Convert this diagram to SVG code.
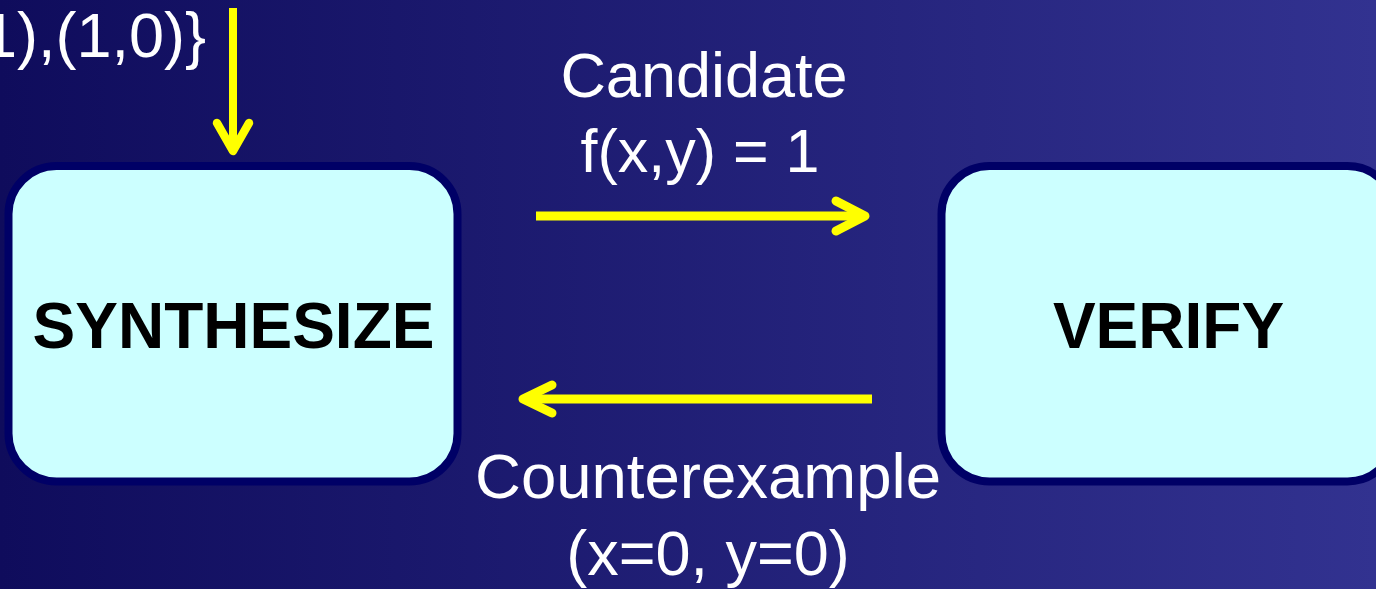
<svg xmlns="http://www.w3.org/2000/svg" width="1376" height="589" viewBox="0 0 1376 589">
<defs>
<linearGradient id="bg" x1="0" y1="0" x2="1" y2="0">
<stop offset="0" stop-color="#0f0c5c"/>
<stop offset="1" stop-color="#323290"/>
</linearGradient>
<style>
.box{fill:#ccffff;stroke:#000066;stroke-width:8}
.node{font-family:"Liberation Sans",Arial,sans-serif;font-weight:bold;font-size:64px;fill:#000000;text-anchor:middle}
.lbl{font-family:"Liberation Sans",Arial,sans-serif;fill:#ffffff;text-anchor:middle}
.ln{stroke:#ffff00;fill:none;stroke-width:9}
.hd{stroke:#ffff00;fill:none;stroke-width:9;stroke-linecap:round;stroke-linejoin:round}
</style>
</defs>
<rect x="0" y="0" width="1376" height="589" fill="url(#bg)"/>
<g id="synthesize">
<rect class="box" x="8.5" y="166" width="449" height="315.5" rx="48" ry="48"/>
<text class="node" x="233.5" y="348">SYNTHESIZE</text>
</g>
<g id="verify">
<rect class="box" x="941.5" y="166" width="454" height="315.5" rx="48" ry="48"/>
<text class="node" x="1168.5" y="348">VERIFY</text>
</g>
<g id="connectors">
<line class="ln" x1="233" y1="8" x2="233" y2="148" style="stroke-width:8"/>
<polyline class="hd" points="217,123 233,151 249,123" style="stroke-width:8.5"/>
<line class="ln" x1="536" y1="216" x2="862" y2="216"/>
<polyline class="hd" points="836,201 865,216 836,231"/>
<line class="ln" x1="872" y1="399" x2="526" y2="399"/>
<polyline class="hd" points="552,385 523,399 552,413"/>
</g>
<g id="labels">
<text class="lbl" x="206" y="57" style="font-size:63px;text-anchor:end">1),(1,0)}</text>
<text class="lbl" x="704" y="97" style="font-size:63px">Candidate</text>
<text class="lbl" x="700" y="172" style="font-size:61px">f(x,y) = 1</text>
<text class="lbl" x="708" y="498" style="font-size:63.5px">Counterexample</text>
<text class="lbl" x="708" y="575" style="font-size:63px">(x=0, y=0)</text>
</g>
</svg>
